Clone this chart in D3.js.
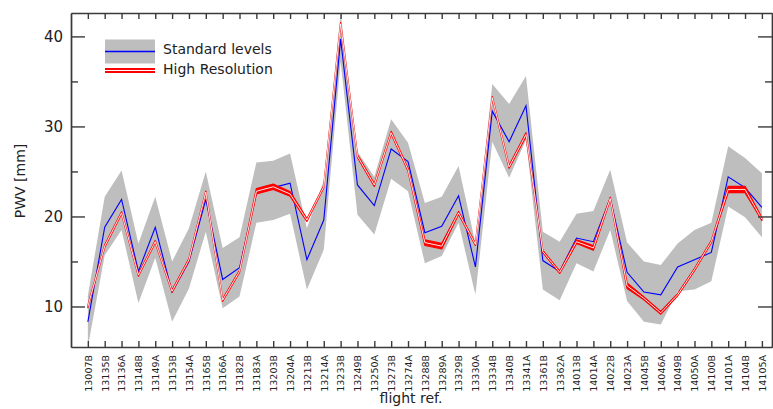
<!DOCTYPE html>
<html>
<head>
<meta charset="utf-8">
<script src="https://cdn.jsdelivr.net/npm/d3@7"></script>
<style>
  body { margin: 0; background: #fff; }
  svg { display: block; font-family: "DejaVu Sans", sans-serif; }
</style>
</head>
<body>
<div id="chart"></div>
<script>
// flight references (x categories)
var flights = ["13007B", "13135B", "13136A", "13148B", "13149A", "13153B", "13154A",
  "13165B", "13166A", "13182B", "13183A", "13203B", "13204A", "13213B", "13214A",
  "13233B", "13249B", "13250A", "13273B", "13274A", "13288B", "13289A", "13329B",
  "13330A", "13334B", "13340B", "13341A", "13361B", "13362A", "14013B", "14014A",
  "14022B", "14023A", "14045B", "14046A", "14049B", "14050A", "14100B", "14101A",
  "14104B", "14105A"];

// standard levels PWV [mm] (blue) and its spread (grey band)
var stdValues = [8.3, 18.8, 21.9, 13.9, 18.8, 11.6, 15.0, 21.9, 13.0, 14.3, 22.6,
  23.2, 23.7, 15.2, 19.6, 39.7, 23.5, 21.2, 27.5, 26.1, 18.2, 18.9, 22.3, 14.4,
  31.7, 28.3, 32.3, 15.1, 13.9, 17.6, 17.2, 22.0, 13.8, 11.6, 11.3, 14.4, 15.2,
  16.0, 24.4, 23.2, 21.0];
var stdLow = [5.5, 15.7, 18.5, 10.4, 15.4, 8.3, 12.0, 18.3, 9.8, 11.1, 19.3,
  19.6, 20.3, 11.9, 16.3, 37.2, 20.2, 18.0, 24.2, 22.8, 14.8, 15.6, 19.3, 11.3,
  28.3, 24.3, 28.5, 11.9, 10.7, 14.8, 13.9, 18.5, 10.6, 8.3, 8.0, 11.7, 11.9,
  12.8, 21.1, 19.9, 17.7];
var stdHigh = [11.2, 22.2, 25.1, 17.0, 22.2, 15.0, 18.7, 25.0, 16.5, 17.7, 26.0,
  26.2, 27.0, 18.7, 24.0, 42.6, 27.2, 24.4, 30.8, 28.2, 21.5, 22.2, 25.6, 17.0,
  34.7, 32.5, 35.6, 18.3, 17.2, 20.3, 20.6, 25.2, 17.1, 15.0, 14.6, 17.0, 18.5,
  19.3, 27.8, 26.5, 24.8];

// high resolution PWV [mm] (red) and its half spread
var hrValues = [10.0, 16.7, 20.4, 13.5, 17.2, 11.7, 15.2, 22.7, 10.7, 13.9, 22.8,
  23.3, 22.5, 19.6, 23.3, 41.4, 26.7, 23.5, 29.3, 25.2, 17.1, 16.7, 20.4, 16.9,
  33.2, 25.5, 29.1, 16.1, 13.8, 17.2, 16.5, 22.0, 12.3, 10.9, 9.3, 11.3, 14.1,
  17.2, 23.0, 23.0, 19.7];
var hrErr = [0.12, 0.12, 0.12, 0.12, 0.12, 0.12, 0.12, 0.12, 0.12, 0.12, 0.3,
  0.3, 0.25, 0.15, 0.12, 0.12, 0.15, 0.15, 0.15, 0.15, 0.3, 0.3, 0.15, 0.12,
  0.12, 0.15, 0.2, 0.12, 0.12, 0.2, 0.25, 0.12, 0.3, 0.15, 0.15, 0.12, 0.12,
  0.12, 0.35, 0.35, 0.15];

var yMajor = [10, 20, 30, 40];
var yMinor = [15, 25, 35];

var width = 773, height = 409;
var axisColor = "#3a3a3a";

var svg = d3.select("#chart").append("svg")
    .attr("width", width)
    .attr("height", height);

var x = d3.scaleLinear()
    .domain([-1, 40.6])
    .range([71, 772]);

var y = d3.scaleLinear()
    .domain([5.5, 42.6])
    .range([347, 13]);

var idx = d3.range(flights.length);

// Grey band
var band = d3.area()
    .x(function(i) { return x(i); })
    .y0(function(i) { return y(stdLow[i]); })
    .y1(function(i) { return y(stdHigh[i]); });

svg.append("path")
    .datum(idx)
    .attr("d", band)
    .style("fill", "#bebebe")
    .style("stroke", "none");

// Blue line
var line = d3.line()
    .x(function(i) { return x(i); })
    .y(function(i) { return y(stdValues[i]); });

svg.append("path")
    .datum(idx)
    .attr("d", line)
    .style("fill", "none")
    .style("stroke", "#0000ff")
    .style("stroke-width", 1.1);

// Red high resolution band with white centre line
var hrBand = d3.area()
    .x(function(i) { return x(i); })
    .y0(function(i) { return y(hrValues[i] - hrErr[i]); })
    .y1(function(i) { return y(hrValues[i] + hrErr[i]); });

svg.append("path")
    .datum(idx)
    .attr("d", hrBand)
    .style("fill", "#ff0000")
    .style("stroke", "#ff0000")
    .style("stroke-width", 1.3)
    .style("stroke-linejoin", "round");

svg.append("path")
    .datum(idx)
    .attr("d", d3.line()
        .x(function(i) { return x(i); })
        .y(function(i) { return y(hrValues[i]); }))
    .style("fill", "none")
    .style("stroke", "#ffffff")
    .style("stroke-width", 0.9);

// Axes
function styleAxis(g) {
  g.attr("font-family", null).attr("font-size", null);
  g.selectAll("path, line").style("stroke", axisColor).style("stroke-width", 1.4);
  g.selectAll("text").style("fill", "#222");
}

svg.append("g")
    .attr("transform", "translate(71,0)")
    .call(d3.axisLeft(y).tickValues(yMajor).tickSize(-14).tickSizeOuter(0)
        .tickPadding(8).tickFormat(d3.format("d")))
    .call(styleAxis)
    .selectAll("text")
    .style("font-size", "15px");

svg.append("g")
    .attr("transform", "translate(71,0)")
    .call(d3.axisLeft(y).tickValues(yMinor).tickSize(-7).tickSizeOuter(0)
        .tickFormat(""))
    .call(styleAxis);

svg.append("g")
    .attr("transform", "translate(772,0)")
    .call(d3.axisRight(y).tickValues(yMajor).tickSize(-14).tickSizeOuter(0)
        .tickFormat(""))
    .call(styleAxis);

svg.append("g")
    .attr("transform", "translate(772,0)")
    .call(d3.axisRight(y).tickValues(yMinor).tickSize(-7).tickSizeOuter(0)
        .tickFormat(""))
    .call(styleAxis);

svg.append("g")
    .attr("transform", "translate(0,13)")
    .call(d3.axisTop(x).tickValues(idx).tickSize(-6).tickSizeOuter(0)
        .tickFormat(""))
    .call(styleAxis);

var xAxis = svg.append("g")
    .attr("transform", "translate(0,347)")
    .call(d3.axisBottom(x).tickValues(idx).tickSize(-6).tickSizeOuter(0)
        .tickFormat(function(i) { return flights[i]; }))
    .call(styleAxis);

xAxis.selectAll("text")
    .attr("transform", "rotate(-90)")
    .attr("x", -8)
    .attr("y", 0)
    .attr("dy", "0.35em")
    .style("text-anchor", "end")
    .style("font-size", "9.5px");

// Axis titles
svg.append("text")
    .attr("x", 411)
    .attr("y", 403)
    .style("text-anchor", "middle")
    .style("font-size", "14px")
    .style("fill", "#222")
    .text("flight ref.");

svg.append("text")
    .attr("transform", "translate(25,181) rotate(-90)")
    .style("text-anchor", "middle")
    .style("font-size", "14px")
    .style("fill", "#222")
    .text("PWV [mm]");

// Legend
var legend = svg.append("g");

legend.append("rect")
    .attr("x", 105)
    .attr("y", 39.5)
    .attr("width", 50)
    .attr("height", 24)
    .style("fill", "#bebebe");

legend.append("line")
    .attr("x1", 105).attr("x2", 155)
    .attr("y1", 51.5).attr("y2", 51.5)
    .style("stroke", "#0000ff")
    .style("stroke-width", 1.5);

legend.append("rect")
    .attr("x", 105)
    .attr("y", 68)
    .attr("width", 50)
    .attr("height", 5)
    .style("fill", "#ff0000");

legend.append("line")
    .attr("x1", 105).attr("x2", 155)
    .attr("y1", 70.5).attr("y2", 70.5)
    .style("stroke", "#ffffff")
    .style("stroke-width", 1);

legend.append("text")
    .attr("x", 163)
    .attr("y", 54)
    .style("font-size", "14px")
    .style("fill", "#222")
    .text("Standard levels");

legend.append("text")
    .attr("x", 163)
    .attr("y", 74)
    .style("font-size", "14px")
    .style("fill", "#222")
    .text("High Resolution");
</script>
</body>
</html>
